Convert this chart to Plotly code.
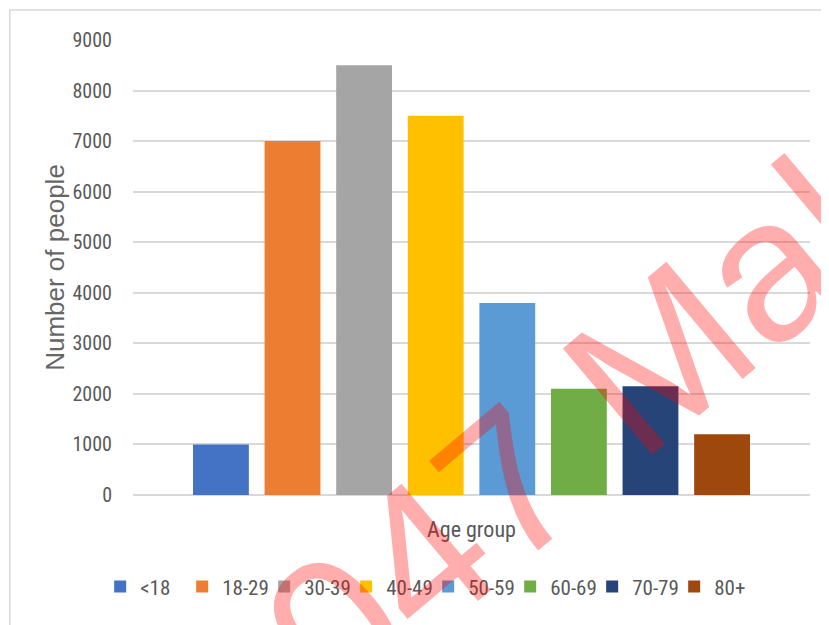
import plotly.graph_objects as go

# Data
age_groups = ["<18", "18-29", "30-39", "40-49", "50-59", "60-69", "70-79", "80+"]
people = [1000, 7000, 8500, 7500, 3800, 2100, 2150, 1200]
colors = ["#4472C4", "#ED7D31", "#A5A5A5", "#FFC000", "#5B9BD5", "#70AD47", "#264478", "#9E480E"]
y_ticks = [0, 1000, 2000, 3000, 4000, 5000, 6000, 7000, 8000, 9000]

narrow = "Roboto Condensed, Liberation Sans Narrow, Liberation Sans, Arial"
grey_text = "#595959"

fig = go.Figure()
for name, val, col in zip(age_groups, people, colors):
    fig.add_trace(go.Bar(
        x=[""],
        y=[val],
        name=name,
        marker_color=col,
        marker_line_width=0,
    ))

fig.update_layout(
    width=821,
    height=617,
    barmode="group",
    bargap=0.154,
    bargroupgap=0.22,
    plot_bgcolor="white",
    paper_bgcolor="white",
    margin=dict(l=125, r=19, t=32, b=130, autoexpand=False),
    font=dict(family=narrow, color=grey_text, size=20),
    showlegend=True,
    legend=dict(
        orientation="h",
        x=0.436, xanchor="center",
        y=-0.202, yanchor="middle",
        font=dict(size=21, color=grey_text),
        entrywidth=37,
        itemwidth=30,
        traceorder="normal",
    ),
    xaxis=dict(
        showticklabels=False,
        showgrid=False,
        showline=False,
        zeroline=False,
        automargin=False,
        title=dict(text="Age group", font=dict(size=22, color=grey_text), standoff=26),
    ),
    yaxis=dict(
        range=[0, 9000],
        tickvals=y_ticks,
        showgrid=True,
        gridcolor="#D9D9D9",
        gridwidth=1.5,
        zeroline=True,
        zerolinecolor="#D9D9D9",
        zerolinewidth=1.5,
        showline=False,
        ticks="",
        automargin=False,
        ticklabelstandoff=20,
        tickfont=dict(size=20, color=grey_text),
        title=dict(text="Number of people",
                   font=dict(family="Liberation Sans, Arial", size=26, color="#666666"),
                   standoff=0),
    ),
)

# outer chart border
fig.add_shape(
    type="rect", xref="paper", yref="paper",
    x0=-0.182, x1=1.1, y0=-0.4, y1=1.066,
    line=dict(color="#D9D9D9", width=1.5),
    fillcolor="rgba(0,0,0,0)",
    layer="below",
)

# watermark overlay
fig.add_annotation(
    text="047 Mala",
    xref="paper", yref="paper",
    x=0.708, y=0.215,
    xanchor="center", yanchor="middle",
    showarrow=False,
    textangle=-40,
    font=dict(family="Liberation Sans, Arial", size=202, color="rgba(255,0,0,0.32)"),
)

fig.write_html("out.html")
